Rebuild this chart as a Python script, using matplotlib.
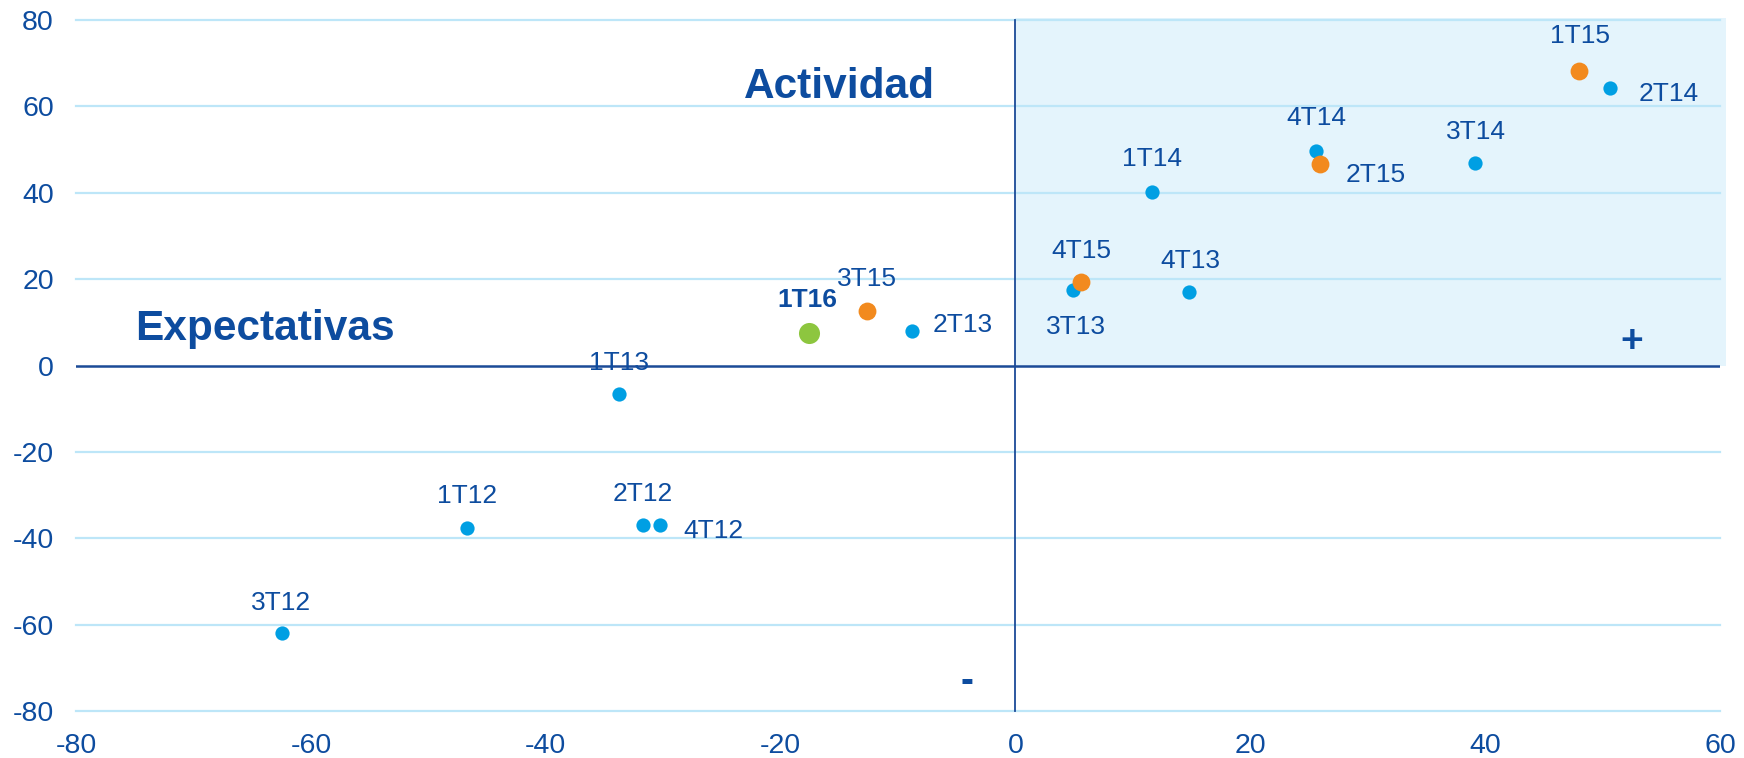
#imports
import numpy as np
import matplotlib.pyplot as plt
from matplotlib.patches import Rectangle

plt.rcParams['font.family'] = ['Liberation Sans', 'DejaVu Sans']
plt.rcParams['axes.unicode_minus'] = False

#data: expectativas (x) vs actividad (y)
blue_labels = ['3T12', '1T12', '2T12', '4T12', '1T13', '2T13', '3T13', '4T13',
               '1T14', '2T14', '3T14', '4T14']
blue_x = [-62.5, -46.7, -31.7, -30.3, -33.8, -8.8, 4.9, 14.8, 11.6, 50.6, 39.1, 25.6]
blue_y = [-61.9, -37.6, -36.9, -36.9, -6.7, 8.0, 17.5, 17.0, 40.2, 64.2, 46.9, 49.7]

orange_labels = ['1T15', '2T15', '3T15', '4T15']
orange_x = [48.0, 25.9, -12.6, 5.6]
orange_y = [68.3, 46.6, 12.6, 19.3]

green_labels = ['1T16']
green_x = [-17.6]
green_y = [7.5]

#label placement (offset in points)
offsets = {
    '3T12': (0, 21.5, 'center'), '1T12': (0, 23, 'center'), '2T12': (0, 22.5, 'center'),
    '4T12': (17, -4.5, 'left'), '1T13': (0, 22.5, 'center'), '2T13': (14.5, 4, 'left'),
    '3T13': (2, -27, 'center'), '4T13': (1, 22.5, 'center'), '1T14': (0, 24, 'center'),
    '2T14': (21, -4, 'left'), '3T14': (1, 22.5, 'center'), '4T14': (0, 24, 'center'),
    '1T15': (1, 25, 'center'), '2T15': (18.5, -8, 'left'), '3T15': (0, 23, 'center'),
    '4T15': (0, 22.5, 'center'), '1T16': (-1, 24, 'center'),
}

#colors
dark = '#0D4C9F'
colors = {'blue': '#009FE3', 'orange': '#F28A1E', 'green': '#8DC63F',
          'grid': '#BDE6F8', 'shade': '#E4F4FC', 'axis': '#1B4A97'}

fig = plt.figure(figsize=(17.44, 7.58), dpi=100)
ax = fig.add_axes([0.0436, 0.062, 0.9426, 0.9116])
ax.set_xlim(-80, 60)
ax.set_ylim(-80, 80)

ax.add_patch(Rectangle((0, 0), 60.5, 80.5, facecolor=colors['shade'], edgecolor='none',
                       zorder=0, clip_on=False))
for yv in range(-80, 81, 20):
    if yv != 0:
        ax.plot([-80, 60], [yv, yv], color=colors['grid'], lw=1.6, zorder=1, clip_on=False)
ax.plot([-80, 60], [0, 0], color=colors['axis'], lw=1.8, zorder=2)
ax.plot([0, 0], [-80, 80], color=colors['axis'], lw=1.3, zorder=2, clip_on=False)

ax.scatter(blue_x, blue_y, s=105, color=colors['blue'], zorder=3, linewidths=0)
ax.scatter(orange_x, orange_y, s=165, color=colors['orange'], zorder=4, linewidths=0)
ax.scatter(green_x, green_y, s=230, color=colors['green'], zorder=4, linewidths=0)

for labels, xs, ys in [(blue_labels, blue_x, blue_y), (orange_labels, orange_x, orange_y),
                       (green_labels, green_x, green_y)]:
    for lab, xv, yv in zip(labels, xs, ys):
        dx, dy, ha = offsets[lab]
        ax.annotate(lab, (xv, yv), xytext=(dx, dy), textcoords='offset points',
                    ha=ha, va='center', fontsize=19, color=dark,
                    fontweight='bold' if lab == '1T16' else 'normal', zorder=5)

ax.text(-75, 8.5, 'Expectativas', fontsize=30.5, fontweight='bold', color=dark,
        ha='left', va='center')
ax.text(-15, 64.4, 'Actividad', fontsize=30.5, fontweight='bold', color=dark,
        ha='center', va='center')
ax.text(52.5, 5.4, '+', fontsize=28, fontweight='bold', color=dark, ha='center', va='center')
ax.text(-4.1, -73.2, '-', fontsize=28, fontweight='bold', color=dark, ha='center', va='center')

ax.set_xticks(np.arange(-80, 61, 20))
ax.set_yticks(np.arange(-80, 81, 20))
ax.tick_params(length=0, labelsize=20.5, colors=dark)
ax.tick_params(axis='x', pad=16)
ax.tick_params(axis='y', pad=16)
for s in ax.spines.values():
    s.set_visible(False)

fig.savefig('out.png', dpi=100)
